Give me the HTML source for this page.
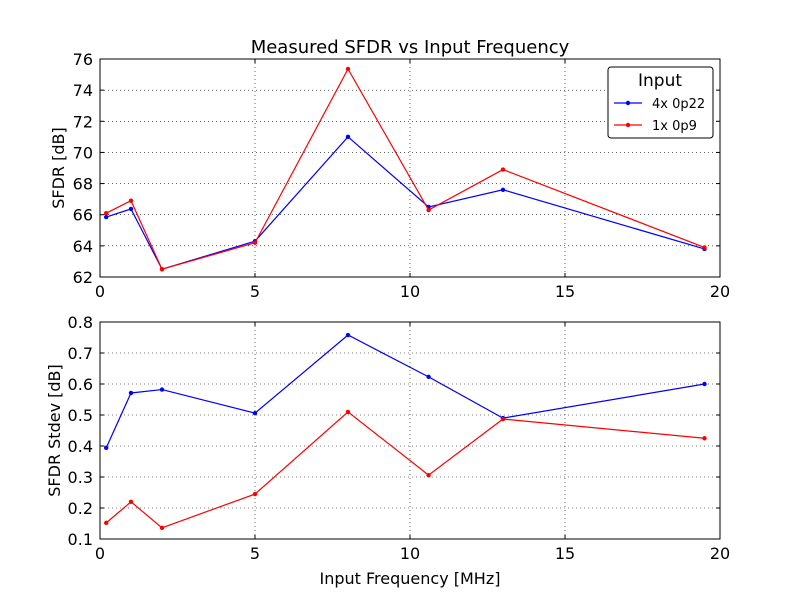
<!DOCTYPE html>
<html><head><meta charset="utf-8"><style>
body{margin:0;background:#fff;}
svg text{font-family:"DejaVu Sans","Liberation Sans",sans-serif;fill:#000;}
</style></head><body>
<svg id="chart" width="800" height="600" xmlns="http://www.w3.org/2000/svg">
<rect width="800" height="600" fill="#fff"/>
</svg>
<script>
const freqs=[0.2,1,2,5,8,10.6,13,19.5];
const sfdr4x=[65.85,66.37,62.5,64.3,71.0,66.5,67.6,63.8];
const sfdr1x=[66.1,66.9,62.5,64.2,75.36,66.3,68.9,63.9];
const std4x=[0.394,0.571,0.582,0.506,0.758,0.623,0.49,0.6];
const std1x=[0.152,0.22,0.136,0.245,0.51,0.306,0.487,0.425];
const xTicks=[0,5,10,15,20];
const topTicks=[62,64,66,68,70,72,74,76];
const botTicks=[0.1,0.2,0.3,0.4,0.5,0.6,0.7,0.8];
const seriesNames=["4x 0p22","1x 0p9"];

const svg=document.getElementById('chart');
const NS='http://www.w3.org/2000/svg';
function mk(tag,attrs,parent){const e=document.createElementNS(NS,tag);for(const k in attrs)e.setAttribute(k,attrs[k]);(parent||svg).appendChild(e);return e;}
const X0=100,X1=720;
const xs=v=>X0+(v-0)/(20-0)*(X1-X0);

function panel(name,top,bot,ymin,ymax,ticks,fmt,s1,s2,ylabel,ylx,showXLabel){
  const ys=v=>bot-(v-ymin)/(ymax-ymin)*(bot-top);
  const g=mk('g',{});
  
  
  xTicks.forEach(t=>{if(t>0&&t<20){const l=mk('line',{x1:xs(t),x2:xs(t),y1:top,y2:bot,stroke:'#000','stroke-width':0.6,'stroke-dasharray':'1,3'},g);}});
  ticks.forEach(t=>{const y=ys(t);if(y>top+1&&y<bot-1){const l=mk('line',{x1:X0,x2:X1,y1:y,y2:y,stroke:'#000','stroke-width':0.6,'stroke-dasharray':'1,3'},g);}});
  [[s1,'#0000ff','series-4x-0p22'],[s2,'#ff0000','series-1x-0p9']].forEach(([d,c,n])=>{
    const pl=mk('polyline',{points:d.map((v,i)=>xs(freqs[i])+','+ys(v)).join(' '),fill:'none',stroke:c,'stroke-width':1.2},g);
    
    d.forEach((v,i)=>{const p=mk('circle',{cx:xs(freqs[i]),cy:ys(v),r:2.2,fill:c},g);});
  });
  const fr=mk('rect',{x:X0,y:top,width:X1-X0,height:bot-top,fill:'none',stroke:'#000','stroke-width':1},g);
  
  xTicks.forEach(t=>{
    mk('line',{x1:xs(t),x2:xs(t),y1:bot,y2:bot-4,stroke:'#000'},g);
    mk('line',{x1:xs(t),x2:xs(t),y1:top,y2:top+4,stroke:'#000'},g);
    const tx=mk('text',{x:xs(t),y:bot+20,'text-anchor':'middle','font-size':16},g);tx.textContent=t;
    
  });
  ticks.forEach(t=>{
    const y=ys(t);
    mk('line',{x1:X0,x2:X0+4,y1:y,y2:y,stroke:'#000'},g);
    mk('line',{x1:X1,x2:X1-4,y1:y,y2:y,stroke:'#000'},g);
    const tx=mk('text',{x:X0-7,y:y+6,'text-anchor':'end','font-size':16},g);tx.textContent=fmt(t);
    
  });
  const yl=mk('text',{x:0,y:0,'text-anchor':'middle','font-size':16,transform:`translate(${ylx},${(top+bot)/2}) rotate(-90)`},g);
  yl.textContent=ylabel;
  if(showXLabel){const xl=mk('text',{x:(X0+X1)/2,y:584,'text-anchor':'middle','font-size':16},g);xl.textContent='Input Frequency [MHz]';}
}
const title=mk('text',{x:410,y:53,'text-anchor':'middle','font-size':18});
title.textContent='Measured SFDR vs Input Frequency';


panel('sfdr-panel',59,277,62,76,topTicks,t=>t,sfdr4x,sfdr1x,'SFDR [dB]',64,false);
panel('stdev-panel',322,539,0.1,0.8,botTicks,t=>t.toFixed(1),std4x,std1x,'SFDR Stdev [dB]',60,true);
const lg=mk('g',{});


mk('rect',{x:608,y:67,width:105,height:71,fill:'#fff',stroke:'#000','stroke-width':1,rx:3},lg);
const lt=mk('text',{x:660,y:86,'text-anchor':'middle','font-size':17},lg);lt.textContent='Input';

[['#0000ff',103],['#ff0000',125]].forEach(([c,y],i)=>{
  const e=mk('g',{},lg);
  
  
  mk('line',{x1:614,x2:642,y1:y,y2:y,stroke:c,'stroke-width':1.2},e);
  mk('circle',{cx:628,cy:y,r:2.2,fill:c},e);
  const t=mk('text',{x:652,y:y+5,'font-size':13},e);t.textContent=seriesNames[i];
});
</script>
</body></html>
